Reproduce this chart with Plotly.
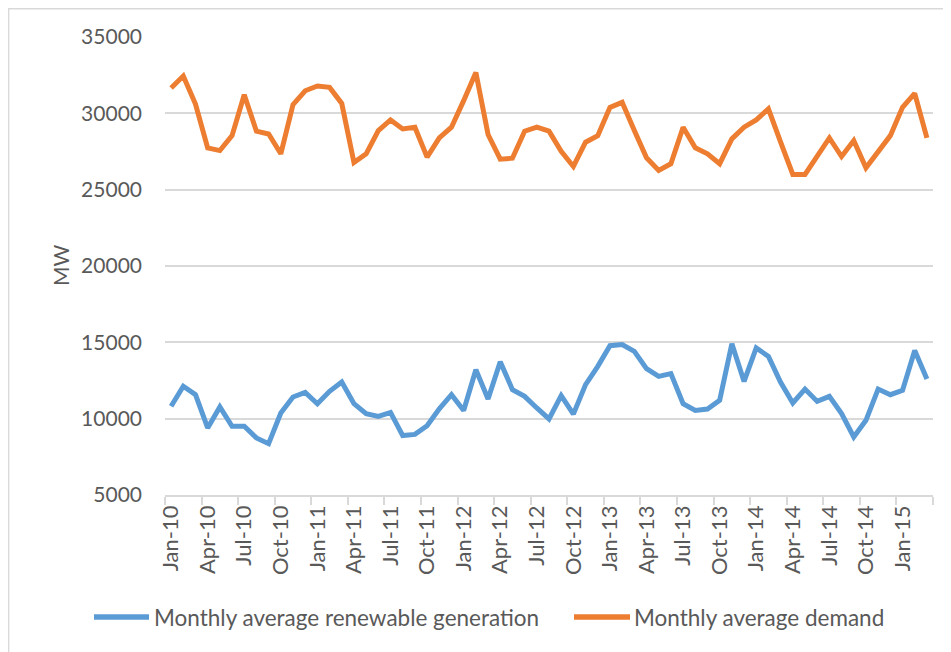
import plotly.graph_objects as go

months = ["Jan", "Feb", "Mar", "Apr", "May", "Jun", "Jul", "Aug", "Sep", "Oct", "Nov", "Dec"]
dates = [f"{m}-{y:02d}" for y in range(10, 16) for m in months][:63]

renewable = [10810, 12120, 11570, 9390, 10770, 9500, 9500, 8740, 8360, 10370, 11420, 11720,
             10980, 11790, 12400, 10980, 10330, 10150, 10410, 8890, 8970, 9540, 10650, 11570,
             10540, 13210, 11290, 13730, 11900, 11460, 10700, 9980, 11510, 10300, 12230, 13430,
             14780, 14850, 14410, 13280, 12770, 12950, 10980, 10540, 10630, 11200, 14910, 12440,
             14630, 14080, 12380, 11030, 11940, 11130, 11460, 10330, 8800, 9890, 11940, 11570,
             11850, 14470, 12600]

demand = [31660, 32440, 30610, 27740, 27560, 28540, 31220, 28830, 28650, 27350, 30570, 31480,
          31790, 31700, 30650, 26780, 27350, 28870, 29570, 28980, 29090, 27130, 28390, 29090,
          30830, 32680, 28610, 27000, 27060, 28830, 29090, 28830, 27520, 26520, 28110, 28540,
          30390, 30720, 28870, 27090, 26260, 26700, 29090, 27740, 27350, 26700, 28330, 29090,
          29570, 30290, 28110, 26000, 26000, 27130, 28390, 27170, 28220, 26430, 27450, 28540,
          30390, 31310, 28390]

series_names = ["Monthly average renewable generation", "Monthly average demand"]
series_colors = ["#5B9BD5", "#ED7D31"]

tick_idx = list(range(0, 63, 3))
tick_text = [dates[i] for i in tick_idx]
xs = list(range(len(dates)))

FONT = "Lato, 'Open Sans', sans-serif"
GRAY = "#595959"
GRID = "#d9d9d9"

fig = go.Figure()
for name, col, vals in zip(series_names, series_colors, [renewable, demand]):
    fig.add_trace(go.Scatter(x=xs, y=vals, mode="lines", name=name,
                             line=dict(color=col, width=5), customdata=dates,
                             hovertemplate="%{customdata}: %{y}<extra></extra>"))

W, H = 951, 652
OFF = 8  # page body margin offset
# target screen positions of plot area: left 165, right 933, top 37, bottom 495
L, T = 165 - OFF, 37 - OFF
R = W - (933 - OFF)
B = H - (495 - OFF)
pw, ph = W - L - R, H - T - B

def px(x):  # screen x -> paper
    return (x - OFF - L) / pw

def py(y):  # screen y -> paper
    return (H - B - (y - OFF)) / ph

annotations = [dict(text="MW", xref="paper", yref="paper", x=px(60), y=py(266),
                    xanchor="center", yanchor="middle", textangle=-90, showarrow=False,
                    font=dict(family=FONT, size=21, color=GRAY))]
shapes = [dict(type="rect", xref="paper", yref="paper",
               x0=px(8.6), x1=px(975), y0=py(680), y1=py(8.7),
               line=dict(color=GRID, width=1.5), fillcolor="rgba(0,0,0,0)", layer="below")]

# manual legend
leg_items = [(94, 149, 152), (574, 630, 632)]
for (lx0, lx1, tx), name, col in zip(leg_items, series_names, series_colors):
    shapes.append(dict(type="line", xref="paper", yref="paper", x0=px(lx0), x1=px(lx1),
                       y0=py(617), y1=py(617), line=dict(color=col, width=5.5)))
    annotations.append(dict(text=name, xref="paper", yref="paper", x=px(tx), y=py(617),
                            xanchor="left", yanchor="middle", showarrow=False,
                            font=dict(family=FONT, size=22.5, color=GRAY)))

fig.update_layout(
    width=W, height=H,
    margin=dict(l=L, r=R, t=T, b=B, autoexpand=False),
    paper_bgcolor="white", plot_bgcolor="white",
    font=dict(family=FONT, color=GRAY, size=20),
    showlegend=False,
    xaxis=dict(range=[-0.5, 62.5], tickmode="array", tickvals=tick_idx, ticktext=tick_text,
               tickangle=-90, ticks="", showgrid=False, zeroline=False, automargin=False,
               showline=True, linecolor=GRID, linewidth=1.5,
               tickfont=dict(family=FONT, size=22, color=GRAY),
               minor=dict(tick0=-0.5, dtick=3, ticks="outside", ticklen=8,
                          tickcolor=GRID, tickwidth=1.5, showgrid=False)),
    yaxis=dict(range=[5000, 35000], dtick=5000, tick0=5000, tickformat="d",
               showgrid=True, gridcolor=GRID, automargin=False,
               gridwidth=1.5, zeroline=False, showline=False, ticks="",
               ticklabelstandoff=22,
               tickfont=dict(family=FONT, size=21, color=GRAY)),
    annotations=annotations,
    shapes=shapes,
)

fig.write_html("out.html")
